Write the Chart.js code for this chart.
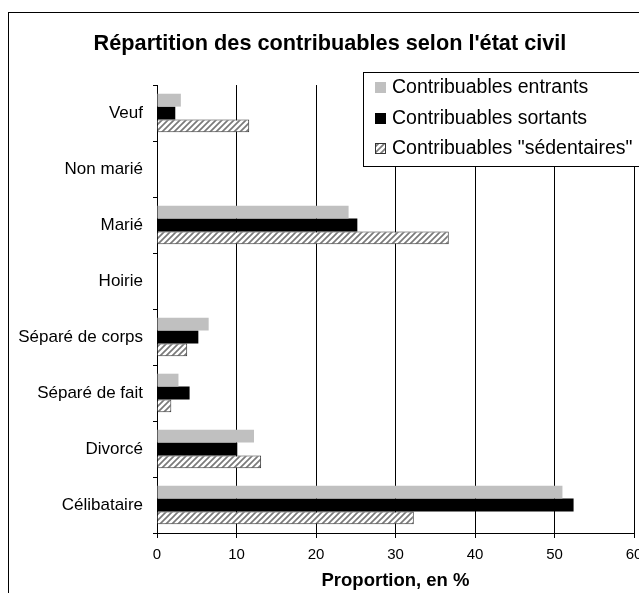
<!DOCTYPE html>
<html>
<head>
<meta charset="utf-8">
<title>Répartition des contribuables selon l'état civil</title>
<script src="https://cdn.jsdelivr.net/npm/chart.js@4/dist/chart.umd.min.js"></script>
<style>
  html, body { margin: 0; padding: 0; background: #fff; }
  #wrap { position: relative; width: 639px; height: 593px; overflow: hidden; }
  #frame { position: absolute; left: 8px; top: 12px; width: 700px; height: 700px; border: 1px solid #000; }
  #box { position: absolute; left: 0; top: 0; width: 660px; height: 593px; }
</style>
</head>
<body>
<div id="wrap">
  <div id="frame"></div>
  <div id="box"><canvas id="civilChart"></canvas></div>
</div>
<script>
'use strict';

// categories (top to bottom)
const etatLabels = [
  'Veuf',
  'Non marié',
  'Marié',
  'Hoirie',
  'Séparé de corps',
  'Séparé de fait',
  'Divorcé',
  'Célibataire',
];

// proportions, en %
const entrants = [3.0, 0, 24.1, 0, 6.5, 2.7, 12.2, 51.0];
const sortants = [2.3, 0, 25.2, 0, 5.2, 4.1, 10.1, 52.4];
const sedentaires = [11.6, 0, 36.7, 0, 3.8, 1.8, 13.1, 32.3];

const xTicks = [0, 10, 20, 30, 40, 50, 60];

const FONT = '"Liberation Sans", Arial, sans-serif';

// hatch pattern for the "sédentaires" bars
function makeHatch() {
  const c = document.createElement('canvas');
  c.width = 6;
  c.height = 6;
  const g = c.getContext('2d');
  g.fillStyle = '#fff';
  g.fillRect(0, 0, 6, 6);
  g.strokeStyle = '#7a7a7a';
  g.lineWidth = 1.7;
  g.beginPath();
  g.moveTo(-1, 7); g.lineTo(7, -1);
  g.moveTo(-4, 4); g.lineTo(4, -4);
  g.moveTo(2, 10); g.lineTo(10, 2);
  g.stroke();
  return g.createPattern(c, 'repeat');
}
const hatch = makeHatch();

const civilData = {
  labels: etatLabels,
  datasets: [
    {
      label: 'Contribuables entrants',
      backgroundColor: '#c0c0c0',
      borderColor: '#c0c0c0',
      borderWidth: 0,
      data: entrants,
    },
    {
      label: 'Contribuables sortants',
      backgroundColor: '#000',
      borderColor: '#000',
      borderWidth: 0,
      data: sortants,
    },
    {
      label: 'Contribuables "sédentaires"',
      backgroundColor: hatch,
      borderColor: '#333',
      borderWidth: 1,
      data: sedentaires,
    },
  ],
};

// legend box drawn inside the plot, like the original
const boxLegend = {
  id: 'boxLegend',
  afterDraw(chart) {
    const ctx = chart.ctx;
    const x = 363.5, y = 72.5, w = 290, h = 94;
    ctx.save();
    ctx.fillStyle = '#fff';
    ctx.fillRect(x, y, w, h);
    ctx.strokeStyle = '#000';
    ctx.lineWidth = 1;
    ctx.strokeRect(x, y, w, h);
    ctx.font = '19.5px ' + FONT;
    ctx.textBaseline = 'middle';
    const rows = [87, 118, 148];
    chart.data.datasets.forEach((ds, i) => {
      const cy = rows[i];
      ctx.fillStyle = ds.backgroundColor;
      ctx.fillRect(375, cy - 5, 11, 11);
      if (i === 2) {
        ctx.strokeStyle = '#333';
        ctx.strokeRect(375.5, cy - 4.5, 10, 10);
      }
      ctx.fillStyle = '#000';
      ctx.fillText(ds.label, 392, cy + 1);
    });
    ctx.restore();
  },
};

const civilConfig = {
  type: 'bar',
  data: civilData,
  options: {
    indexAxis: 'y',
    responsive: true,
    maintainAspectRatio: false,
    animation: false,
    categoryPercentage: 0.69,
    barPercentage: 1.0,
    layout: { padding: 0 },
    plugins: {
      legend: { display: false },
      tooltip: { enabled: false },
      title: {
        display: true,
        text: "Répartition des contribuables selon l'état civil",
        color: '#000',
        font: { family: FONT, size: 21.7, weight: 'bold' },
        padding: { top: 31, bottom: 28 },
      },
    },
    scales: {
      x: {
        min: 0,
        max: 60,
        afterBuildTicks(scale) {
          scale.ticks = xTicks.map(v => ({ value: v }));
        },
        afterFit(scale) {
          scale.height = 60;
          scale.paddingRight = 26;
        },
        grid: {
          color: '#000',
          lineWidth: 1,
          tickLength: 5,
          drawOnChartArea: true,
        },
        border: { display: true, color: '#000', width: 1 },
        ticks: {
          color: '#000',
          padding: 8,
          font: { family: FONT, size: 15 },
        },
        title: {
          display: true,
          text: 'Proportion, en %',
          color: '#000',
          font: { family: FONT, size: 18.5, weight: 'bold' },
          padding: { top: 0, bottom: 1 },
        },
      },
      y: {
        afterFit(scale) {
          scale.width = 157;
        },
        grid: {
          offset: true,
          drawOnChartArea: false,
          color: '#000',
          tickLength: 4,
        },
        border: { display: true, color: '#000', width: 1 },
        ticks: {
          color: '#000',
          padding: 10,
          font: { family: FONT, size: 17 },
        },
      },
    },
  },
  plugins: [boxLegend],
};

const civilChart = new Chart(
  document.getElementById('civilChart'),
  civilConfig
);
</script>
</body>
</html>
